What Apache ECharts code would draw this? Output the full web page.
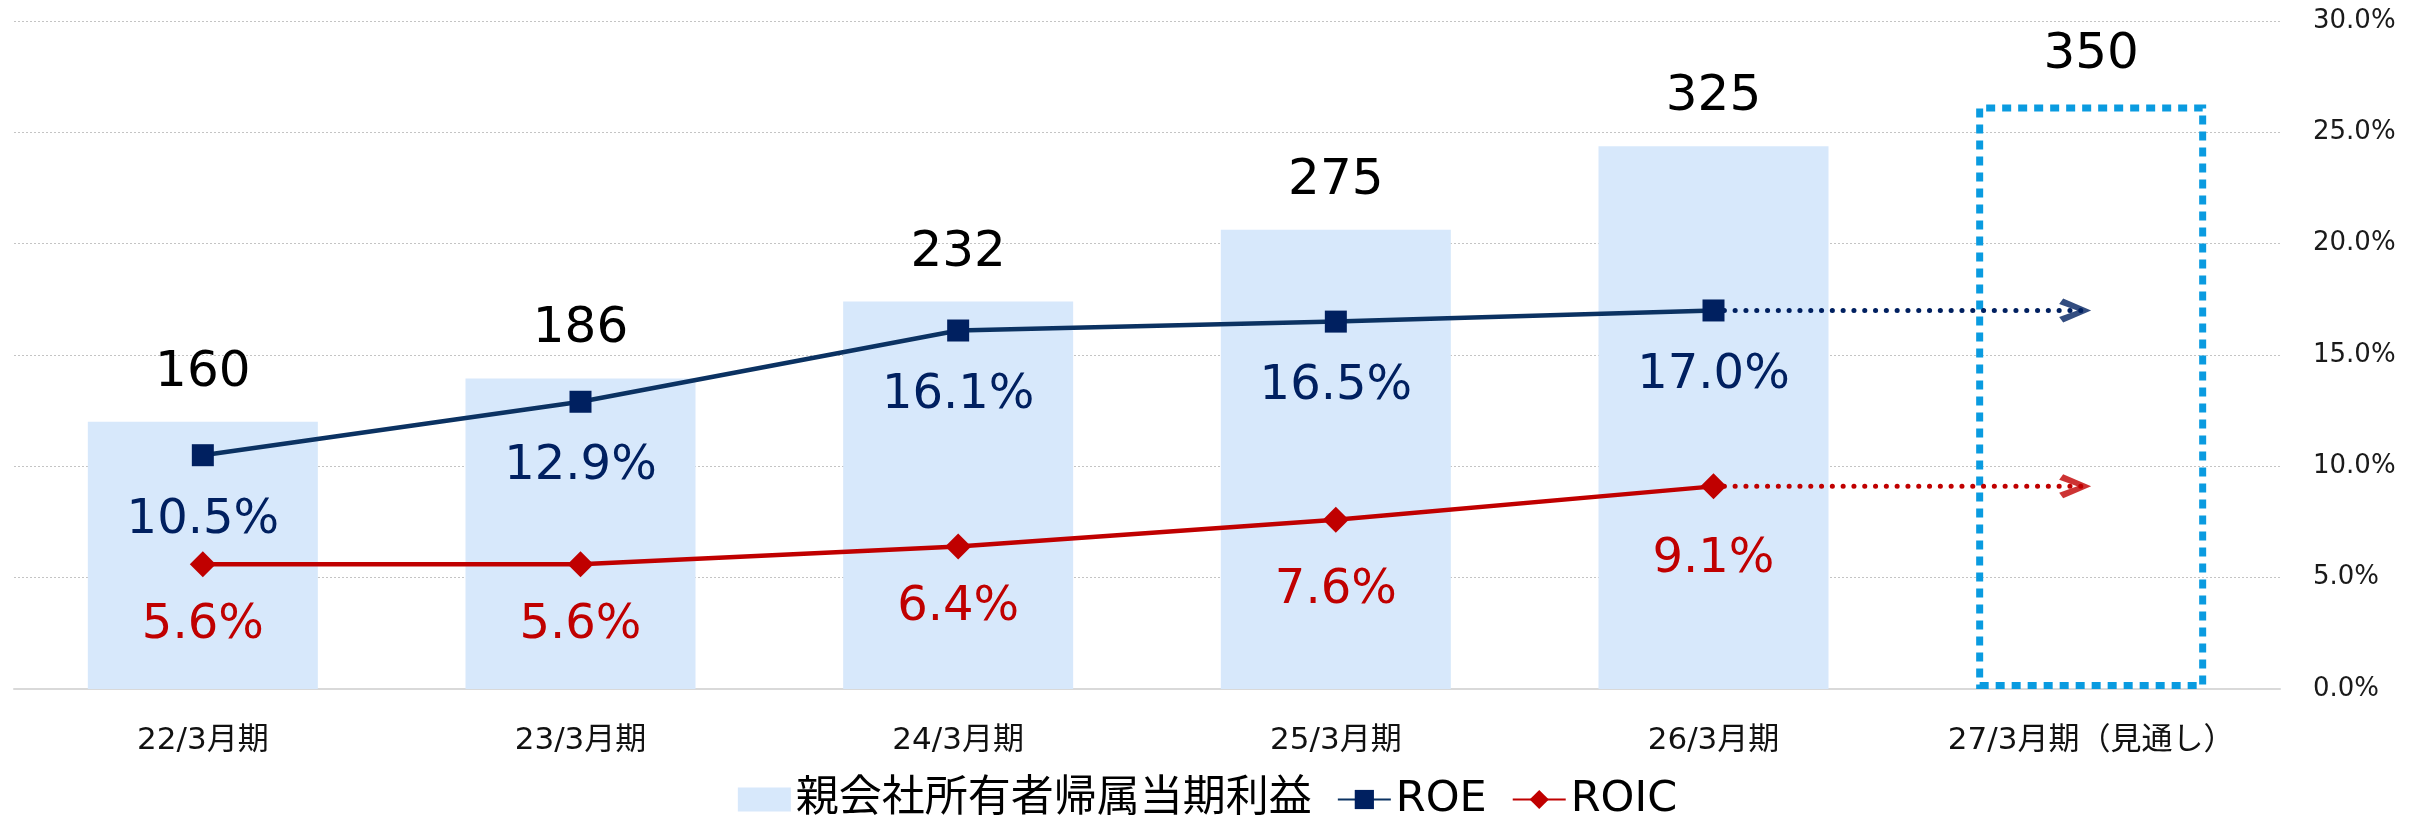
<!DOCTYPE html>
<html><head><meta charset="utf-8">
<script src="https://cdn.jsdelivr.net/npm/echarts@6/dist/echarts.min.js"></script>
<style>html,body{margin:0;padding:0;background:#fff}#c{width:2415px;height:818px}</style>
</head><body><div id="c"></div>
<script>
// ---- data ----
const categories = ['22/3月期', '23/3月期', '24/3月期', '25/3月期', '26/3月期', '27/3月期（見通し）'];
const profitValues = [160, 186, 232, 275, 325, 350];   // 親会社所有者帰属当期利益
const roeValues = [10.5, 12.9, 16.1, 16.5, 17.0];        // ROE (%)
const roicValues = [5.6, 5.6, 6.4, 7.6, 9.1];            // ROIC (%)
const forecastIndex = 5;                                 // 見通し column
const pctAxisMin = 0, pctAxisMax = 30, pctAxisStep = 5;
const profitAxisMin = 0, profitAxisMax = 400;

// ---- styles ----
const BAR_COLOR = '#D7E8FB';
const BOX_COLOR = '#0A9BE0';
const ROE_LINE = '#0B3262', ROE_MARK = '#002060';
const ROIC_COLOR = '#C00000';
const LATIN_CJK = 'DejaVu Sans, Noto Sans CJK JP';
const roicLabelNudge = [0, 0, 0, 10, 12];   // label fine-tuning (px)

function padTo(arr) { return categories.map((_, i) => i < arr.length ? arr[i] : null); }
function extension(arr) {
  const last = arr.length - 1;
  return categories.map((_, i) => (i === last || i === forecastIndex) ? arr[last] : null);
}
function arrowPoint(arr) {
  return categories.map((_, i) => i === forecastIndex ? arr[arr.length - 1] : null);
}
const pctFmt = p => Number(p.value).toFixed(1) + '%';
const chevron = 'path://M4,0 L32,12 L4,24 L0,18.5 L18,12 L0,5.5 Z';

const barData = profitValues.map((v, i) => i === forecastIndex ? {
  value: v,
  itemStyle: { color: 'rgba(0,0,0,0)', borderColor: BOX_COLOR, borderWidth: 7, borderType: [9, 7] }
} : v);
const roicData = padTo(roicValues).map((v, i) => (v != null && roicLabelNudge[i]) ?
  { value: v, label: { offset: [0, roicLabelNudge[i]] } } : v);

const option = {
  animation: false,
  backgroundColor: '#fff',
  grid: { left: 14, right: 135, top: 21, bottom: 129, outerBoundsMode: 'none' },
  legend: {
    data: [{ name: '親会社所有者帰属当期利益', icon: 'rect' }, 'ROE', 'ROIC'],
    top: 773, left: 'center',
    itemWidth: 53, itemHeight: 24, itemGap: 25,
    textStyle: { fontFamily: LATIN_CJK, fontSize: 43, color: '#000' }
  },
  xAxis: {
    type: 'category', data: categories,
    axisTick: { show: false },
    axisLine: { lineStyle: { color: '#D9D9D9', width: 2 } },
    axisLabel: { interval: 0, margin: 36, fontFamily: LATIN_CJK, fontSize: 31, color: '#111' }
  },
  yAxis: [
    { type: 'value', min: profitAxisMin, max: profitAxisMax, show: false, splitLine: { show: false } },
    {
      type: 'value', position: 'right', min: pctAxisMin, max: pctAxisMax, interval: pctAxisStep,
      axisLine: { show: false }, axisTick: { show: false },
      splitLine: { lineStyle: { color: '#C4C4C4', width: 1, type: [2, 2] } },
      axisLabel: { margin: 33, fontFamily: 'DejaVu Sans', fontSize: 26, color: '#1a1a1a',
        formatter: v => v.toFixed(1) + '%' }
    }
  ],
  series: [
    {
      name: '親会社所有者帰属当期利益', type: 'bar', yAxisIndex: 0, data: barData,
      barWidth: 230, itemStyle: { color: BAR_COLOR }, z: 1,
      label: { show: true, position: 'top', distance: 24, fontFamily: 'DejaVu Sans', fontSize: 50, color: '#000' }
    },
    {
      name: 'ROE予測', type: 'line', yAxisIndex: 1, data: extension(roeValues), symbol: 'none', z: 2,
      lineStyle: { color: ROE_MARK, width: 5, type: [0.1, 10.7], cap: 'round' }, silent: true
    },
    {
      name: 'ROIC予測', type: 'line', yAxisIndex: 1, data: extension(roicValues), symbol: 'none', z: 2,
      lineStyle: { color: ROIC_COLOR, width: 5, type: [0.1, 10.7], cap: 'round' }, silent: true
    },
    {
      name: 'ROE矢印', type: 'scatter', yAxisIndex: 1, data: arrowPoint(roeValues), z: 3,
      symbol: chevron, symbolSize: [32, 24], symbolOffset: [-16, 0], itemStyle: { color: ROE_MARK }
    },
    {
      name: 'ROIC矢印', type: 'scatter', yAxisIndex: 1, data: arrowPoint(roicValues), z: 3,
      symbol: chevron, symbolSize: [32, 24], symbolOffset: [-16, 0], itemStyle: { color: ROIC_COLOR }
    },
    {
      name: 'ROE', type: 'line', yAxisIndex: 1, data: padTo(roeValues), z: 4,
      symbol: 'rect', symbolSize: 22,
      lineStyle: { color: ROE_LINE, width: 4.5 }, itemStyle: { color: ROE_MARK },
      label: { show: true, position: 'bottom', distance: 30, fontFamily: 'DejaVu Sans', fontSize: 48,
        color: ROE_MARK, formatter: pctFmt }
    },
    {
      name: 'ROIC', type: 'line', yAxisIndex: 1, data: roicData, z: 4,
      symbol: 'diamond', symbolSize: 26,
      lineStyle: { color: ROIC_COLOR, width: 4.5 }, itemStyle: { color: ROIC_COLOR },
      label: { show: true, position: 'bottom', distance: 24, fontFamily: 'DejaVu Sans', fontSize: 48,
        color: ROIC_COLOR, formatter: pctFmt }
    }
  ]
};
const chart = echarts.init(document.getElementById('c'), null, { renderer: 'canvas' });
chart.setOption(option);
</script>
</body></html>
